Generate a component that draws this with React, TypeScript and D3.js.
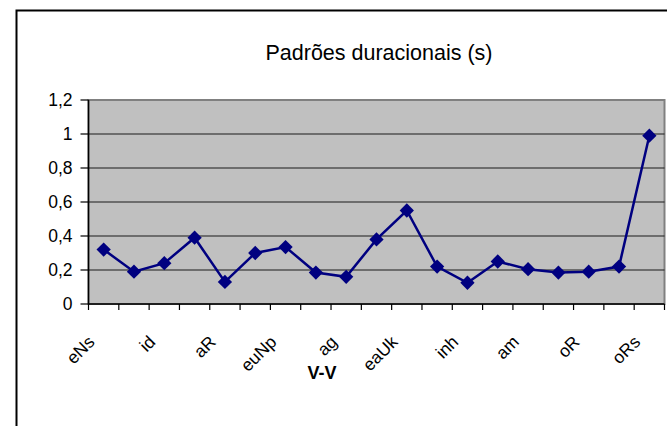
import React from 'react';
import * as d3 from 'd3';

// duração média por contexto V-V (s)
const labels = ['eNs', '', 'id', '', 'aR', '', 'euNp', '', 'ag', '', 'eaUk', '', 'inh', '', 'am', '', 'oR', '', 'oRs'];
const values = [0.32, 0.19, 0.24, 0.39, 0.13, 0.30, 0.335, 0.185, 0.16, 0.38, 0.55, 0.22, 0.125, 0.25, 0.205, 0.185, 0.19, 0.22, 0.99];
const yTicks = [0, 0.2, 0.4, 0.6, 0.8, 1, 1.2];

const title = 'Padrões duracionais (s)';
const xTitle = 'V-V';

const App = () => {
  const width = 667, height = 426;
  const margin = { top: 100, right: 2.5, bottom: 122, left: 88.5 };
  const w = width - margin.left - margin.right;
  const h = height - margin.top - margin.bottom;

  const x = d3.scaleBand<number>()
    .domain(d3.range(values.length))
    .range([0, w]);

  const y = d3.scaleLinear()
    .domain([0, 1.2])
    .range([h, 0]);

  const line = d3.line<number>()
    .x((d, i) => x(i)! + x.bandwidth() / 2)
    .y(d => y(d));

  const diamond = d3.symbol().type(d3.symbolDiamond2).size(130);

  const fmt = (v: number) => String(+v.toFixed(1)).replace('.', ',');
  const font = 'Liberation Sans, Arial, sans-serif';

  return (
    <svg width={width} height={height} style={{ position: 'absolute', left: 0, top: 0 }} fontFamily={font}>
      <rect x={0} y={0} width={width} height={height} fill="#fff" />
      <rect x={16.5} y={10.5} width={700} height={500} fill="none" stroke="#000" strokeWidth={2} />
      <text x={379} y={60} textAnchor="middle" fontSize={21.5}>{title}</text>

      <g transform={'translate(' + margin.left + ',' + margin.top + ')'}>
        <rect x={0} y={0} width={w} height={h} fill="#c0c0c0" stroke="#808080" strokeWidth={2} />
        {yTicks.filter(t => t > 0 && t < 1.2).map(t => (
          <line key={t} x1={0} x2={w} y1={y(t)} y2={y(t)} stroke="#1a1a1a" strokeWidth={1.2} />
        ))}
        {/* eixo y */}
        <line x1={0} x2={0} y1={0} y2={h} stroke="#000" strokeWidth={1.5} />
        {yTicks.map(t => (
          <g key={t} transform={'translate(0,' + y(t) + ')'}>
            <line x1={-8} x2={0} stroke="#000" strokeWidth={1.2} />
            <text x={-16} dy="0.36em" textAnchor="end" fontSize={17.5}>{fmt(t)}</text>
          </g>
        ))}
        {/* eixo x */}
        <line x1={0} x2={w} y1={h} y2={h} stroke="#000" strokeWidth={1.5} />
        {d3.range(values.length + 1).map(i => (
          <line key={i} x1={i * x.step()} x2={i * x.step()} y1={h} y2={h + 6} stroke="#000" strokeWidth={1.2} />
        ))}
        {labels.map((l, i) => l && (
          <text key={i} transform={'translate(' + (x(i)! + x.bandwidth() / 2 - 8) + ',' + (h + 39) + ') rotate(-45)'}
            textAnchor="end" fontSize={17.5}>{l}</text>
        ))}
        <path d={line(values)!} fill="none" stroke="#000080" strokeWidth={2.5} />
        {values.map((v, i) => (
          <path key={i} d={diamond()!} fill="#000080"
            transform={'translate(' + (x(i)! + x.bandwidth() / 2) + ',' + y(v) + ')'} />
        ))}
      </g>

      <text x={322} y={379} textAnchor="middle" fontSize={18} fontWeight="bold">{xTitle}</text>
    </svg>
  );
};

export default App;
